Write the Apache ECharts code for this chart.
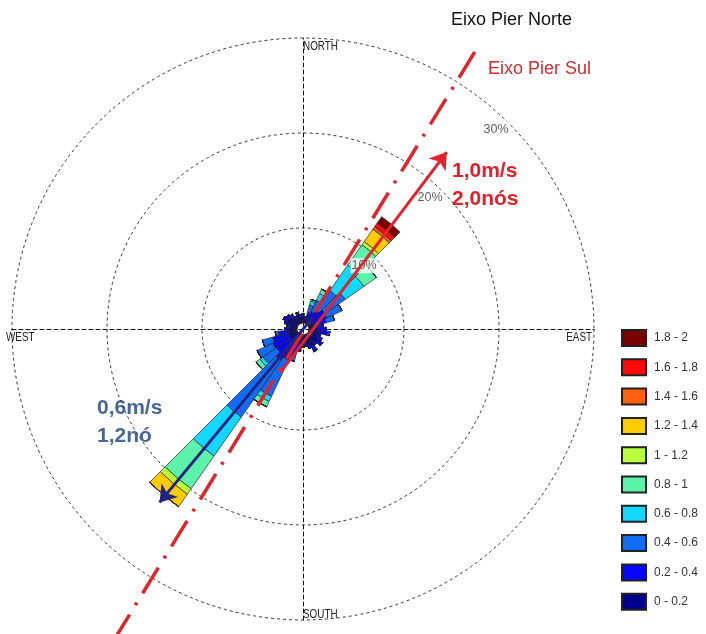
<!DOCTYPE html>
<html>
<head>
<meta charset="utf-8">
<script src="https://cdn.jsdelivr.net/npm/echarts@6/dist/echarts.min.js"></script>
<style>
  html, body { margin: 0; padding: 0; background: #fff; }
  #chart { width: 706px; height: 634px; }
</style>
</head>
<body>
<div id="chart"></div>
<script>
// Direction sectors (degrees, clockwise from north), 10° wide
const directions = ['0','10','20','30','40','50','60','70','80','90','100','110','120','130','140','150','160','170',
                    '180','190','200','210','220','230','240','250','260','270','280','290','300','310','320','330','340','350'];

// Current speed classes (m/s) and their colours
const speedClasses = ['0 - 0.2','0.2 - 0.4','0.4 - 0.6','0.6 - 0.8','0.8 - 1','1 - 1.2','1.2 - 1.4','1.4 - 1.6','1.6 - 1.8','1.8 - 2'];
const classColors  = ['#00008c','#0505ff','#126cf5','#12d8ff','#5cf2aa','#b8ff3c','#ffcc00','#ff6010','#ff0a0a','#7a0000'];

// Frequency (%) per direction sector for each speed class
const freq_00_02 = [0.7,0.5,0.5,0.5,0.5,0.6,0.7,0.7,0.8,0.9,1.1,0.9,1.1,1.3,1.0,1.4,1.1,0.9,
                    0.9,1.0,1.0,1.0,1.0,1.0,1.0,1.0,0.9,0.9,0.8,1.0,1.2,1.1,1.0,0.7,0.9,0.7];
const freq_02_04 = [0.3,0.2,0.7,0.9,1.3,1.6,1.4,1.2,0.7,0.9,0.9,0.4,0.5,0.6,0.4,0.6,0.4,0.3,
                    0.4,0.7,1.3,2.0,2.4,1.8,1.9,1.7,1.1,0.4,0.3,0.4,0.5,0.4,0.3,0.2,0.3,0.2];
const freq_04_06 = [0,0,0.8,1.3,2.5,2.6,1.8,0.9,0,0,0.2,0,0,0,0,0,0,0,
                    0,0,0.6,4.2,7.3,1.7,1.8,1.1,0.3,0,0,0,0,0,0,0,0,0];
const freq_06_08 = [0,0,0.4,0.8,3.3,2.4,0,0,0,0,0,0,0,0,0,0,0,0,
                    0,0,0,0.6,5.0,0.4,0,0,0,0,0,0,0,0,0,0,0,0];
const freq_08_10 = [0,0,0.2,0.5,2.6,1.6,0,0,0,0,0,0,0,0,0,0,0,0,
                    0,0,0,0.6,4.2,0.5,0,0,0,0,0,0,0,0,0,0,0,0];
const freq_10_12 = [0,0,0,0,0.4,0,0,0,0,0,0,0,0,0,0,0,0,0,
                    0,0,0,0,0.7,0,0,0,0,0,0,0,0,0,0,0,0,0];
const freq_12_14 = [0,0,0,0,1.6,0,0,0,0,0,0,0,0,0,0,0,0,0,
                    0,0,0,0,1.6,0,0,0,0,0,0,0,0,0,0,0,0,0];
const freq_14_16 = [0,0,0,0,0.3,0,0,0,0,0,0,0,0,0,0,0,0,0,
                    0,0,0,0,0,0,0,0,0,0,0,0,0,0,0,0,0,0];
const freq_16_18 = [0,0,0,0,0.5,0,0,0,0,0,0,0,0,0,0,0,0,0,
                    0,0,0,0,0,0,0,0,0,0,0,0,0,0,0,0,0,0];
const freq_18_20 = [0,0,0,0,0.8,0,0,0,0,0,0,0,0,0,0,0,0,0,
                    0,0,0,0,0,0,0,0,0,0,0,0,0,0,0,0,0,0];
const classFreqs = [freq_00_02,freq_02_04,freq_04_06,freq_06_08,freq_08_10,
                    freq_10_12,freq_12_14,freq_14_16,freq_16_18,freq_18_20];

// Radial rings (%)
const ringValues = [10, 20, 30];

// Overlay lines: [bearing°, distance] pairs in ring units
const pierSulAxis    = [[31.8, 33.6], [211.3, 38.7]];
const meanFloodArrow = [[207.6, 5.1], [39.1, 23.5]];
const meanEbbArrow   = [[40, 1.5], [219.6, 23.2]];

const CX = 303, CY = 329, R = 291, HOLE = 6;
const FONT = '"Liberation Sans", Arial, sans-serif';

function toXY(b, d) {
  const a = b * Math.PI / 180;
  return [d * Math.sin(a), d * Math.cos(a)];
}
// distance (overlay units) of a ring value, accounting for the calm hole
function ringDist(v) {
  const px = HOLE + v * (R - HOLE) / 30;
  return px / (R / 30);
}

const chart = echarts.init(document.getElementById('chart'), null, { renderer: 'canvas' });

const barSeries = speedClasses.map((name, i) => ({
  name: name,
  type: 'bar',
  coordinateSystem: 'polar',
  stack: 'rose',
  barCategoryGap: '0%',
  data: classFreqs[i],
  itemStyle: { color: classColors[i], borderColor: '#222', borderWidth: 0.7 },
  emphasis: { disabled: true },
  z: 3
}));

const compassText = (text, x, y, align) => ({
  type: 'text', x: x, y: y, scaleX: 0.76,
  style: { text: text, font: '13px ' + FONT, fill: '#222', verticalAlign: 'middle', align: align || 'left' }
});

const option = {
  animation: false,
  backgroundColor: '#fff',
  polar: { center: [CX, CY], radius: [HOLE, R] },
  angleAxis: {
    type: 'category', data: directions, startAngle: 95, clockwise: true,
    axisLine: { show: false }, axisTick: { show: false }, axisLabel: { show: false }, splitLine: { show: false }
  },
  radiusAxis: {
    type: 'value', min: 0, max: 30, interval: 10,
    axisLine: { show: false }, axisTick: { show: false }, axisLabel: { show: false },
    splitLine: { show: true, showMinLine: false, lineStyle: { color: '#333', width: 1, type: [3, 3] } }
  },
  grid: { left: CX - R, top: CY - R, width: 2 * R, height: 2 * R, show: false },
  xAxis: {
    type: 'value', min: -30, max: 30,
    axisLine: { show: true, onZero: true, lineStyle: { color: '#111', width: 1, type: [4, 3] } },
    axisTick: { show: false }, axisLabel: { show: false }, splitLine: { show: false }
  },
  yAxis: {
    type: 'value', min: -30, max: 30,
    axisLine: { show: true, onZero: true, lineStyle: { color: '#111', width: 1, type: [4, 3] } },
    axisTick: { show: false }, axisLabel: { show: false }, splitLine: { show: false }
  },
  legend: {
    orient: 'vertical', left: 621, top: 329, height: 300, padding: 0,
    itemWidth: 24, itemHeight: 16, itemGap: 11.3,
    icon: 'rect', selectedMode: false,
    data: speedClasses.slice().reverse(),
    textStyle: { fontFamily: FONT, fontSize: 12, color: '#333', padding: [0, 0, 0, 3] }
  },
  series: barSeries.concat([
    {
      name: 'rings', type: 'scatter', xAxisIndex: 0, yAxisIndex: 0,
      symbolSize: 1, itemStyle: { color: 'rgba(0,0,0,0)' }, silent: true, z: 4,
      data: ringValues.map(v => toXY(44, ringDist(v) - 1.35).concat([v])),
      label: {
        show: true, position: 'inside', formatter: p => p.value[2] + '%',
        fontFamily: FONT, fontSize: 12.5, color: '#333',
        backgroundColor: '#fff', padding: [1, 1]
      }
    },
    {
      name: 'Eixo Pier Sul', type: 'line', xAxisIndex: 0, yAxisIndex: 0, clip: false,
      showSymbol: false, silent: true, z: 6,
      data: pierSulAxis.map(p => toXY(p[0], p[1])),
      lineStyle: { color: '#e0242b', width: 3.5, type: [30, 11, 3, 11], cap: 'butt' }
    },
    {
      name: 'flood', type: 'lines', coordinateSystem: 'cartesian2d', xAxisIndex: 0, yAxisIndex: 0,
      clip: false, silent: true, z: 7,
      symbol: ['none', 'arrow'], symbolSize: [0, 16],
      lineStyle: { color: '#e3232c', width: 3, opacity: 1 },
      data: [{ coords: meanFloodArrow.map(p => toXY(p[0], p[1])) }]
    },
    {
      name: 'ebb', type: 'lines', coordinateSystem: 'cartesian2d', xAxisIndex: 0, yAxisIndex: 0,
      clip: false, silent: true, z: 7,
      symbol: ['none', 'arrow'], symbolSize: [0, 16],
      lineStyle: { color: '#23237f', width: 3, opacity: 1 },
      data: [{ coords: meanEbbArrow.map(p => toXY(p[0], p[1])) }]
    }
  ]),
  graphic: [
    { type: 'text', x: 451, y: 20, style: { text: 'Eixo Pier Norte', font: '18px ' + FONT, fill: '#111', verticalAlign: 'middle' } },
    { type: 'text', x: 488, y: 69, style: { text: 'Eixo Pier Sul', font: '18px ' + FONT, fill: '#d42a2f', verticalAlign: 'middle' } },
    { type: 'text', x: 452, y: 171, style: { text: '1,0m/s', font: 'bold 21px ' + FONT, fill: '#e2202c', verticalAlign: 'middle' } },
    { type: 'text', x: 452, y: 199, style: { text: '2,0nós', font: 'bold 21px ' + FONT, fill: '#e2202c', verticalAlign: 'middle' } },
    { type: 'text', x: 97, y: 408, style: { text: '0,6m/s', font: 'bold 21px ' + FONT, fill: '#4a6894', verticalAlign: 'middle' } },
    { type: 'text', x: 97, y: 436, style: { text: '1,2nó', font: 'bold 21px ' + FONT, fill: '#4a6894', verticalAlign: 'middle' } },
    compassText('NORTH', 303, 46),
    compassText('SOUTH', 303, 614),
    compassText('WEST', 6, 337),
    compassText('EAST', 592, 337, 'right')
  ]
};

chart.setOption(option);
</script>
</body>
</html>
